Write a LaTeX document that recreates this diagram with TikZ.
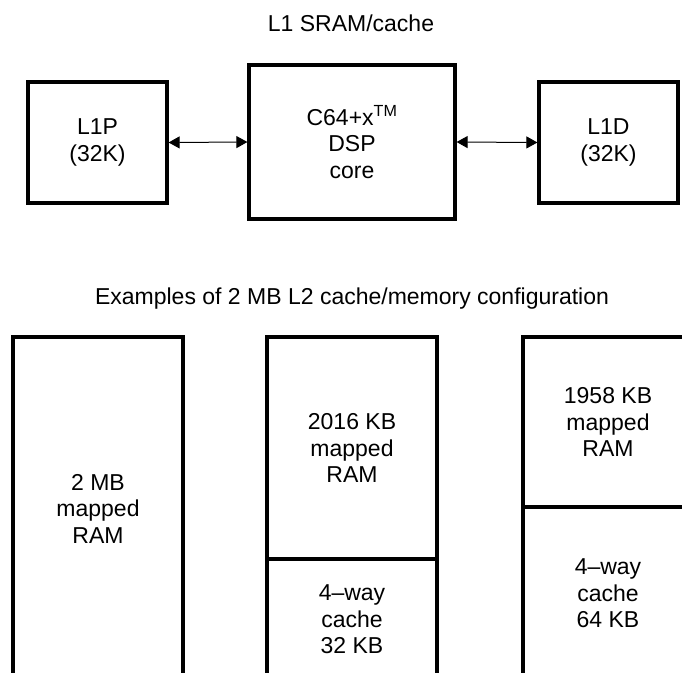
\documentclass[tikz,border=0pt]{standalone}
\usepackage{fontspec}
\setmainfont{Liberation Sans}
\usetikzlibrary{arrows.meta}
\tikzset{
  lbl/.style={inner sep=0pt, align=center, font=\fontsize{23}{26.5}\selectfont},
  blk/.style={draw, line width=3.2pt, inner sep=0pt, align=center,
              font=\fontsize{23}{26.5}\selectfont},
  link/.style={line width=1pt, {Triangle[length=11pt,width=12pt]}-{Triangle[length=11pt,width=12pt]}}
}
\begin{document}
\begin{tikzpicture}[x=1pt,y=-1pt]
\useasboundingbox (0,0) rectangle (682,672);
\clip (0,0) rectangle (682,672);
% titles
\node[lbl, anchor=base] (t1) at (351,31) {L1 SRAM/cache};
\node[lbl, anchor=base] (t2) at (352,304) {Examples of 2 MB L2 cache/memory configuration};
% top blocks
\node[blk, minimum width=139pt, minimum height=121pt] (l1p) at (97.5,142.5) {L1P\\(32K)};
\node[blk, minimum width=206pt, minimum height=154pt] (core) at (352,142) {C64+x\textsuperscript{TM}\\DSP\\core};
\node[blk, minimum width=139pt, minimum height=121pt] (l1d) at (608.5,142.5) {L1D\\(32K)};
\draw[link] (l1p.east) -- (core.west);
\draw[link] (core.east) -- (l1d.west);
% bottom configurations
\node[blk, minimum width=170pt, minimum height=343pt] (c1) at (98,508.5) {2 MB\\mapped\\RAM};
\node[blk, minimum width=170pt, minimum height=222pt] (c2a) at (352,448) {2016 KB\\mapped\\RAM};
\node[blk, minimum width=170pt, minimum height=121pt] (c2b) at (352,619.5) {4–way\\cache\\32 KB};
\node[blk, minimum width=170pt, minimum height=170pt] (c3a) at (608,422) {1958 KB\\mapped\\RAM};
\node[blk, minimum width=170pt, minimum height=173pt] (c3b) at (608,593.5) {4–way\\cache\\64 KB};
\end{tikzpicture}
\end{document}
